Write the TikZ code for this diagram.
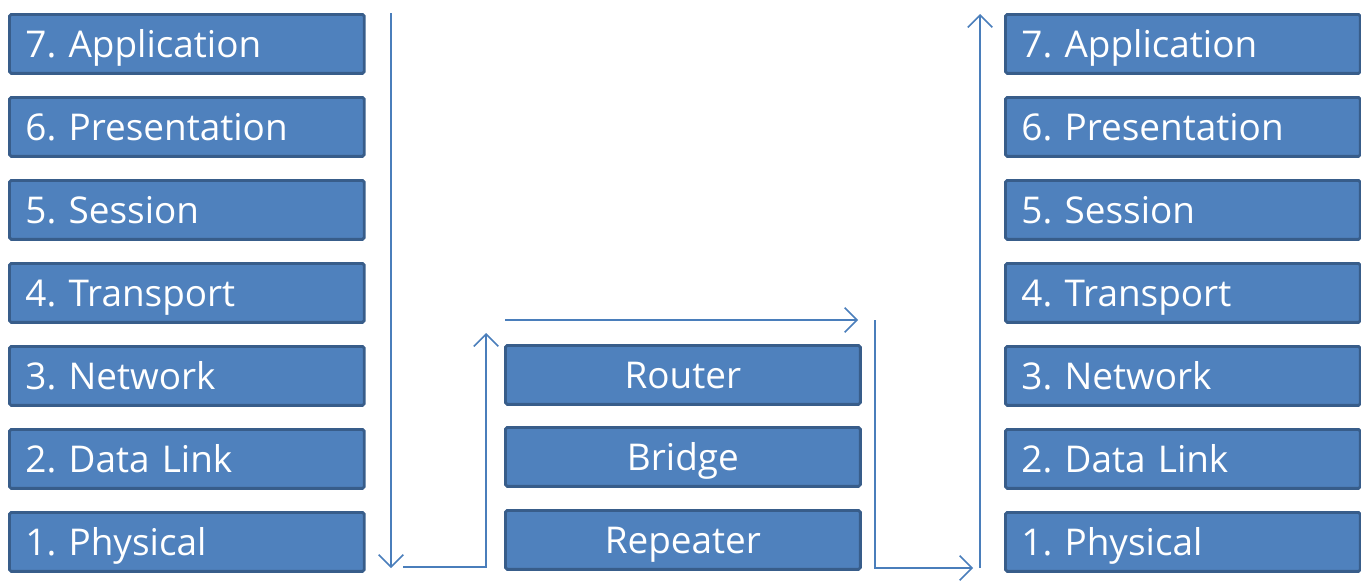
\documentclass[tikz,border=0pt]{standalone}
\usepackage{fontspec}
\setmainfont{Open Sans}
\usetikzlibrary{arrows.meta}
\definecolor{layerfill}{HTML}{4F81BD}
\definecolor{layerdraw}{HTML}{385D8A}
\definecolor{flow}{HTML}{4A7EBB}
\tikzset{
  layer/.style={draw=layerdraw, fill=layerfill, line width=1.6pt, rounded corners=1pt,
    text=white, anchor=north west, minimum width=7.1cm, minimum height=1.18cm,
    inner xsep=0.32cm, inner ysep=0pt, text width=6.46cm, align=left,
    text height=0.53cm, text depth=0pt,
    font=\fontsize{21}{25}\selectfont\frenchspacing},
  device/.style={layer, align=center},
  flowline/.style={draw=flow, line width=0.9pt, -{Straight Barb[length=7pt, width=14pt, line width=0.9pt]}}
}
\begin{document}
\begin{tikzpicture}[x=0.02cm, y=-0.02cm]
  \useasboundingbox (0,0) rectangle (1361,585);
  % sending host
  \foreach \n/\t in {7/Application, 6/Presentation, 5/Session, 4/Transport,
                     3/Network, 2/Data Link, 1/Physical}
    \node[layer] (s\n) at (8,{13+(7-\n)*83}) {\n. \t};
  % intermediate devices
  \node[device] (router) at (504,344) {Router};
  \node[device] (bridge) at (504,426) {Bridge};
  \node[device] (repeater) at (504,509) {Repeater};
  % receiving host
  \foreach \n/\t in {7/Application, 6/Presentation, 5/Session, 4/Transport,
                     3/Network, 2/Data Link, 1/Physical}
    \node[layer] (r\n) at (1004,{13+(7-\n)*83}) {\n. \t};
  % path of the data
  \coordinate (downtop) at (391,13);
  \coordinate (downbot) at (391,568);
  \coordinate (upstart) at (403,567);
  \coordinate (uptop) at (486,333);
  \coordinate (acrossa) at (505,320);
  \coordinate (acrossb) at (858,320);
  \coordinate (righttop) at (875,320);
  \coordinate (rightend) at (973,568);
  \coordinate (recvbot) at (980,568);
  \coordinate (recvtop) at (980,14);
  \draw[flowline] (downtop) -- (downbot);
  \draw[flowline] (upstart) -| (uptop);
  \draw[flowline] (acrossa) -- (acrossb);
  \draw[flowline] (righttop) |- (rightend);
  \draw[flowline] (recvbot) -- (recvtop);
\end{tikzpicture}
\end{document}
